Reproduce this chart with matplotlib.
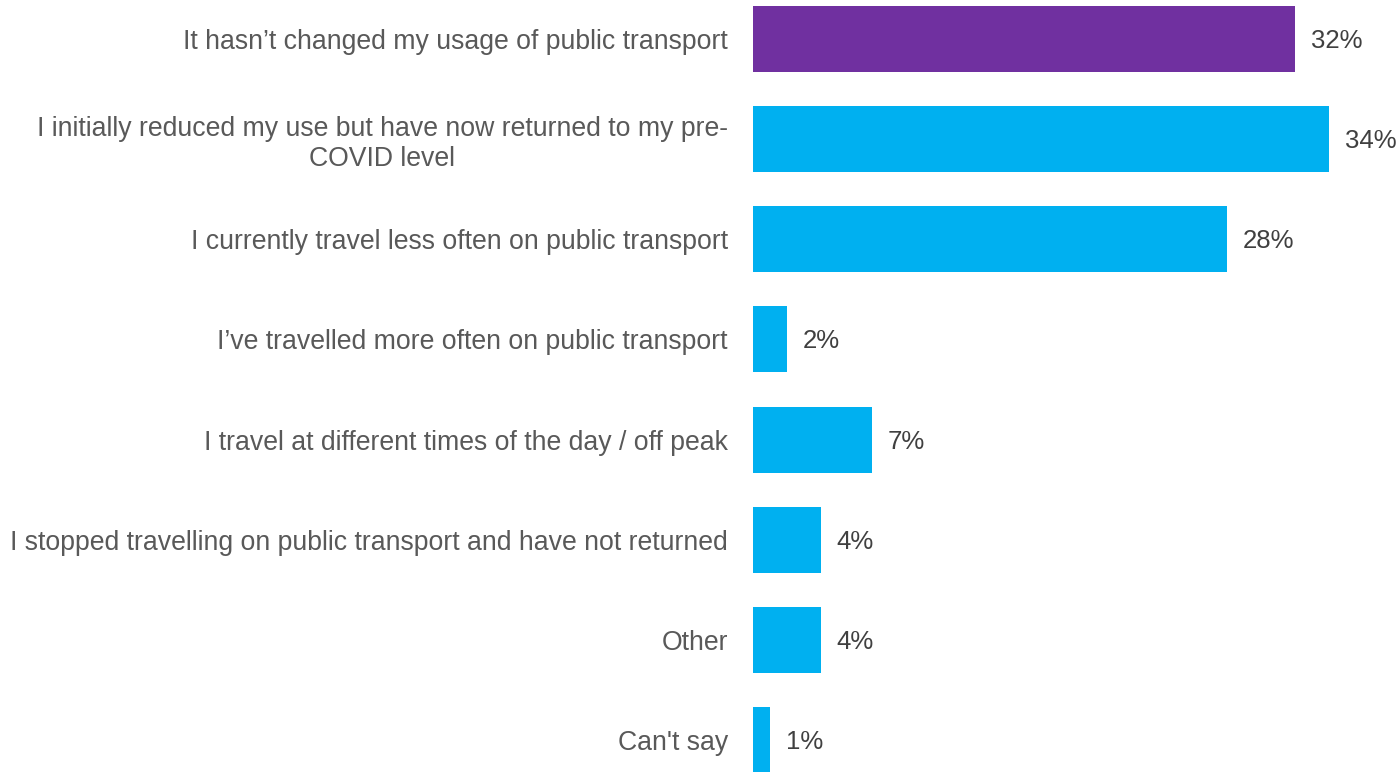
import matplotlib.pyplot as plt

# Survey responses: change in public transport usage
categories = [
    "It hasn\u2019t changed my usage of public transport",
    "I initially reduced my use but have now returned to my pre-\nCOVID level",
    "I currently travel less often on public transport",
    "I\u2019ve travelled more often on public transport",
    "I travel at different times of the day / off peak",
    "I stopped travelling on public transport and have not returned",
    "Other",
    "Can't say",
]
values = [32, 34, 28, 2, 7, 4, 4, 1]
colors = ["#7030A0"] + ["#00B0F0"] * 7

plt.rcParams['font.family'] = ['Liberation Sans', 'DejaVu Sans']

fig = plt.figure(figsize=(14, 7.72), dpi=100)
ax = fig.add_axes([753 / 1400, 0, 647 / 1400, 1])

y = list(range(len(categories)))
ax.barh(y, values, height=0.66, color=colors)

ax.set_xlim(0, 38.2)
ax.set_ylim(7.32, -0.39)

ax.set_yticks(y)
ax.set_yticklabels(categories, fontsize=19.2, color="#595959")
for lab in ax.get_yticklabels():
    lab.set_multialignment('center')
ax.tick_params(axis='y', length=0, pad=18)
ax.set_xticks([])

for spine in ax.spines.values():
    spine.set_visible(False)

for yi, v in zip(y, values):
    ax.annotate(f"{v}%", xy=(v, yi), xytext=(16, -2), textcoords='offset pixels',
                va='center', ha='left', fontsize=18.5, color="#404040")

fig.savefig('out.png', dpi=100)
plt.close(fig)
